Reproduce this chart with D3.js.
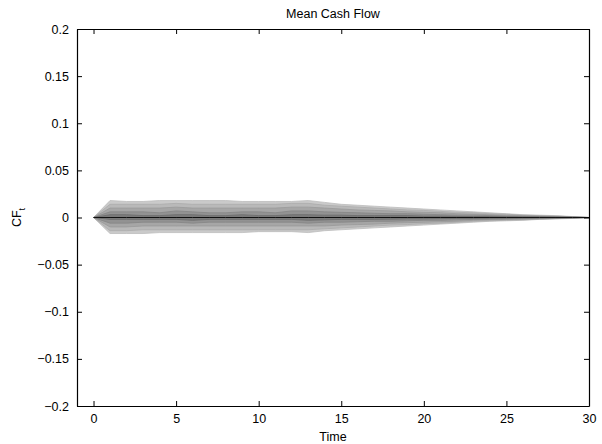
<!DOCTYPE html>
<html>
<head>
<meta charset="utf-8">
<script src="https://cdn.jsdelivr.net/npm/d3@7/dist/d3.min.js"></script>
<style>
  html, body { margin: 0; padding: 0; background: #fff; }
  svg text { font-family: "Liberation Sans", Arial, Helvetica, sans-serif; fill: #000; }
</style>
</head>
<body>
<svg id="chart" width="602" height="444"></svg>
<script>
// Time axis (periods)
const time = [0,1,2,3,4,5,6,7,8,9,10,11,12,13,14,15,16,17,18,19,20,21,22,23,24,25,26,27,28,29,30];

// Quantile bands of the cash flow distribution, in thousandths (outermost first)
const band1Upper = [0,18,17,17,18,18,18,18,18,17,17,17,17,18,16,14,13,12,11,10,9,8,7,6,5,4,3,2.5,2,1,0];
const band1Lower = [0,-17,-17,-17,-16,-16,-16,-16,-16,-16,-15,-15,-15,-16,-14,-13,-12,-11,-10,-9,-8,-7,-6,-5,-4,-3.5,-3,-2,-1.5,-1,0];
const band2Upper = [0,14,14,14,14,15,14,14,14,14,14,14,15,15,13,12,11,10,9,8,7.5,6.5,5.5,5,4,3.5,2.5,2,1.5,0.8,0];
const band2Lower = [0,-14,-14,-13,-13,-13,-13,-13,-13,-13,-13,-13,-13,-13,-12,-11,-10,-9,-8,-7.5,-6.5,-6,-5,-4,-3.5,-3,-2.5,-1.8,-1.2,-0.8,0];
const band3Upper = [0,10,10,10,10,11,10,10,10,10,10,10,11,11,10,9,8,7.5,7,6,5.5,5,4,3.5,3,2.5,2,1.5,1,0.6,0];
const band3Lower = [0,-10,-10,-9,-9,-9,-9,-9,-9,-9,-9,-9,-9,-9,-9,-8,-7.5,-7,-6,-5.5,-5,-4.5,-4,-3,-2.5,-2,-1.8,-1.3,-1,-0.6,0];
const band4Upper = [0,6,6,6,5,7,6,5,5,6,6,5,7,7,6,5.5,5,4.5,4,4,3.5,3,2.5,2.5,2,1.5,1.2,1,0.7,0.4,0];
const band4Lower = [0,-6,-6,-5,-5,-5,-6,-5,-5,-5,-5,-5,-5,-6,-5,-5,-4.5,-4,-4,-3.5,-3,-3,-2.5,-2,-1.8,-1.5,-1.2,-0.9,-0.7,-0.4,0];
const band5Upper = [0,3,3,2,2,3,3,2,2,3,2,2,3,3,2.5,2.5,2,2,2,2,1.5,1.5,1.2,1,1,0.8,0.6,0.5,0.4,0.2,0];
const band5Lower = [0,-2,-2,-2,-2,-2,-3,-2,-2,-2,-2,-2,-2,-3,-2.5,-2,-2,-2,-1.8,-1.5,-1.5,-1.2,-1,-1,-0.8,-0.7,-0.6,-0.4,-0.3,-0.2,0];
const meanCF = [0,0,0,0,0,0,0,0,0,0,0,0,0,0,0,0,0,0,0,0,0,0,0,0,0,0,0,0,0,0,0];

const bandFills = ["#cacaca", "#b9b9b9", "#a6a6a6", "#929292", "#7a7a7a"];
const bandStrokes = ["#bdbdbd", "#acacac", "#999999", "#858585", "#6c6c6c"];

const xTicks = [0,5,10,15,20,25,30];
const yTicks = [-0.2,-0.15,-0.1,-0.05,0,0.05,0.1,0.15,0.2];

const bands = [
  [band1Upper, band1Lower],
  [band2Upper, band2Lower],
  [band3Upper, band3Lower],
  [band4Upper, band4Lower],
  [band5Upper, band5Lower]
];

const svg = d3.select("#chart");
const plot = { left: 77, right: 589, top: 29, bottom: 406 };

const x = d3.scaleLinear().domain([-1, 30]).range([plot.left, plot.right]);
const y = d3.scaleLinear().domain([-0.2, 0.2]).range([plot.bottom, plot.top]);

// Fan bands
const area = d3.area()
  .x(d => x(d.t))
  .y0(d => y(d.lo / 1000))
  .y1(d => y(d.hi / 1000));

bands.forEach(([up, lo], i) => {
  const data = time.map((t, j) => ({ t, hi: up[j], lo: lo[j] }));
  svg.append("path")
    .datum(data)
    .attr("d", area)
    .attr("fill", bandFills[i])
    .attr("stroke", bandStrokes[i])
    .attr("stroke-width", 0.8);
});

// Mean path
svg.append("path")
  .datum(time.map((t, j) => ({ t, v: meanCF[j] })))
  .attr("d", d3.line().x(d => x(d.t)).y(d => y(d.v)))
  .attr("fill", "none")
  .attr("stroke", "#111")
  .attr("stroke-width", 1);

// Axes (ticks point inward, mirrored on top and right)
const xBottom = d3.axisBottom(x).tickValues(xTicks).tickSizeInner(-5).tickSizeOuter(0).tickPadding(8);
const xTop = d3.axisTop(x).tickValues(xTicks).tickSizeInner(-5).tickSizeOuter(0).tickFormat("");
const yLeft = d3.axisLeft(y).tickValues(yTicks).tickSizeInner(-5).tickSizeOuter(0).tickPadding(8)
  .tickFormat(d => String(+d.toFixed(2)).replace("-", "\u2212"));
const yRight = d3.axisRight(y).tickValues(yTicks).tickSizeInner(-5).tickSizeOuter(0).tickFormat("");

function styleAxis(g) {
  g.selectAll("path.domain").attr("stroke", "#000").attr("stroke-width", 1.2);
  g.selectAll(".tick line").attr("stroke", "#000").attr("stroke-width", 1);
  g.selectAll(".tick text").attr("font-size", 12.5).style("font-family", "'Liberation Sans', Arial, sans-serif");
}

svg.append("g").attr("transform", `translate(0,${plot.bottom})`).call(xBottom).call(styleAxis);
svg.append("g").attr("transform", `translate(0,${plot.top})`).call(xTop).call(styleAxis);
svg.append("g").attr("transform", `translate(${plot.left},0)`).call(yLeft).call(styleAxis);
svg.append("g").attr("transform", `translate(${plot.right},0)`).call(yRight).call(styleAxis);

// Titles
const cx = (plot.left + plot.right) / 2;
svg.append("text").attr("x", cx).attr("y", 18).attr("text-anchor", "middle")
  .attr("font-size", 12.5).text("Mean Cash Flow");
svg.append("text").attr("x", cx).attr("y", 441).attr("text-anchor", "middle")
  .attr("font-size", 12.5).text("Time");

const yl = svg.append("text")
  .attr("transform", `translate(21,${(plot.top + plot.bottom) / 2}) rotate(-90)`)
  .attr("text-anchor", "middle").attr("font-size", 12.5);
yl.append("tspan").text("CF");
yl.append("tspan").attr("dy", 4).attr("font-size", 9).text("t");
</script>
</body>
</html>
